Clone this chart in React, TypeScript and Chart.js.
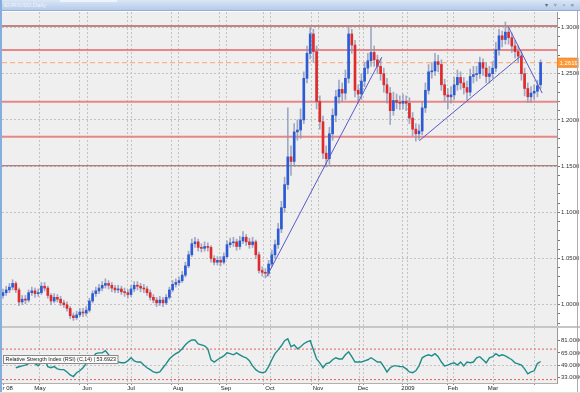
import React, { useEffect, useRef } from 'react';
import { Chart, registerables } from 'chart.js';

Chart.register(...registerables);

// ---------- data (EUR/USD daily, Apr 2008 - Mar 2009) ----------
const OPEN = [
  1.010,1.013,1.016,1.019,1.023,1.016,1.003,1.006,1.005,1.013,
  1.015,1.012,1.013,1.020,1.018,1.010,1.004,1.008,1.006,1.002,
  1.000,0.996,0.988,0.986,0.989,0.992,0.991,0.994,1.004,1.012,
  1.015,1.018,1.021,1.023,1.021,1.018,1.016,1.017,1.014,1.013,
  1.011,1.017,1.021,1.020,1.018,1.017,1.013,1.008,1.005,1.002,
  1.005,1.002,1.008,1.016,1.022,1.024,1.026,1.032,1.042,1.054,
  1.066,1.068,1.062,1.061,1.063,1.062,1.050,1.046,1.048,1.046,
  1.052,1.065,1.067,1.068,1.063,1.069,1.073,1.068,1.065,1.068,
  1.054,1.037,1.035,1.034,1.044,1.054,1.065,1.082,1.105,1.130,
  1.160,1.155,1.187,1.189,1.200,1.245,1.272,1.293,1.274,1.220,
  1.198,1.164,1.158,1.185,1.205,1.225,1.233,1.229,1.245,1.293,
  1.281,1.232,1.228,1.242,1.256,1.264,1.273,1.265,1.258,1.250,
  1.238,1.229,1.210,1.221,1.219,1.218,1.220,1.218,1.202,1.190,
  1.185,1.188,1.213,1.232,1.252,1.253,1.263,1.260,1.238,1.227,
  1.225,1.227,1.238,1.246,1.240,1.235,1.230,1.247,1.249,1.250,
  1.262,1.256,1.247,1.250,1.256,1.276,1.291,1.287,1.295,1.289,
  1.280,1.274,1.269,1.250,1.234,1.225,1.229,1.231,1.238,
];
const HIGH = [
  1.017,1.020,1.023,1.027,1.025,1.018,1.010,1.010,1.016,1.019,
  1.018,1.017,1.024,1.024,1.020,1.012,1.012,1.011,1.009,1.005,
  1.003,0.998,0.991,0.993,0.996,0.996,0.998,1.007,1.015,1.019,
  1.022,1.025,1.028,1.026,1.024,1.021,1.021,1.020,1.018,1.016,
  1.021,1.025,1.025,1.023,1.022,1.020,1.016,1.011,1.008,1.009,
  1.008,1.011,1.019,1.026,1.028,1.030,1.036,1.046,1.058,1.071,
  1.073,1.071,1.066,1.068,1.067,1.064,1.053,1.052,1.052,1.056,
  1.069,1.072,1.073,1.071,1.074,1.079,1.076,1.072,1.073,1.070,
  1.057,1.041,1.039,1.048,1.059,1.070,1.088,1.112,1.138,1.213,
  1.172,1.196,1.200,1.212,1.252,1.280,1.301,1.298,1.280,1.226,
  1.204,1.172,1.192,1.212,1.232,1.243,1.240,1.254,1.300,1.298,
  1.286,1.238,1.250,1.262,1.272,1.301,1.280,1.270,1.266,1.256,
  1.245,1.235,1.230,1.228,1.226,1.228,1.226,1.224,1.208,1.196,
  1.195,1.220,1.240,1.260,1.262,1.272,1.270,1.265,1.244,1.234,
  1.236,1.246,1.254,1.252,1.246,1.242,1.255,1.258,1.258,1.268,
  1.266,1.262,1.258,1.263,1.284,1.298,1.296,1.306,1.300,1.294,
  1.286,1.280,1.274,1.256,1.240,1.236,1.238,1.243,1.265,
];
const LOW = [
  1.007,1.010,1.013,1.016,1.013,0.999,1.000,1.001,1.003,1.010,
  1.008,1.009,1.011,1.015,1.007,1.000,1.002,1.003,0.999,0.997,
  0.993,0.985,0.983,0.984,0.987,0.987,0.988,0.992,1.002,1.009,
  1.012,1.015,1.018,1.017,1.014,1.013,1.013,1.011,1.009,1.007,
  1.009,1.014,1.016,1.014,1.013,1.010,1.005,1.002,0.998,0.999,
  0.998,1.000,1.006,1.014,1.019,1.021,1.024,1.030,1.040,1.052,
  1.062,1.058,1.057,1.058,1.058,1.046,1.043,1.043,1.042,1.044,
  1.050,1.062,1.063,1.059,1.060,1.066,1.064,1.061,1.062,1.050,
  1.034,1.031,1.029,1.031,1.041,1.050,1.061,1.078,1.100,1.125,
  1.140,1.150,1.178,1.180,1.196,1.240,1.266,1.262,1.212,1.190,
  1.158,1.149,1.152,1.178,1.198,1.218,1.220,1.222,1.240,1.272,
  1.225,1.218,1.222,1.236,1.250,1.258,1.258,1.250,1.243,1.230,
  1.218,1.195,1.205,1.212,1.211,1.212,1.210,1.196,1.183,1.177,
  1.179,1.184,1.208,1.228,1.245,1.248,1.252,1.232,1.220,1.212,
  1.218,1.222,1.232,1.233,1.228,1.222,1.226,1.240,1.242,1.245,
  1.248,1.240,1.240,1.245,1.252,1.270,1.279,1.282,1.282,1.273,
  1.267,1.262,1.243,1.226,1.219,1.219,1.222,1.225,1.234,
];
const CLOSE = [
  1.013,1.016,1.019,1.023,1.016,1.003,1.006,1.005,1.013,1.015,
  1.012,1.013,1.020,1.018,1.010,1.004,1.008,1.006,1.002,1.000,
  0.996,0.988,0.986,0.989,0.992,0.991,0.994,1.004,1.012,1.015,
  1.018,1.021,1.023,1.021,1.018,1.016,1.017,1.014,1.013,1.011,
  1.017,1.021,1.020,1.018,1.017,1.013,1.008,1.005,1.002,1.005,
  1.002,1.008,1.016,1.022,1.024,1.026,1.032,1.042,1.054,1.066,
  1.068,1.062,1.061,1.063,1.062,1.050,1.046,1.048,1.046,1.052,
  1.065,1.067,1.068,1.063,1.069,1.073,1.068,1.065,1.068,1.054,
  1.037,1.035,1.034,1.044,1.054,1.065,1.082,1.105,1.130,1.160,
  1.155,1.187,1.189,1.200,1.245,1.272,1.293,1.274,1.220,1.198,
  1.164,1.158,1.185,1.205,1.225,1.233,1.229,1.245,1.293,1.281,
  1.232,1.228,1.242,1.256,1.264,1.273,1.265,1.258,1.250,1.238,
  1.229,1.210,1.221,1.219,1.218,1.220,1.218,1.202,1.190,1.185,
  1.188,1.213,1.232,1.252,1.253,1.263,1.260,1.238,1.227,1.225,
  1.227,1.238,1.246,1.240,1.235,1.230,1.247,1.249,1.250,1.262,
  1.256,1.247,1.250,1.256,1.276,1.291,1.287,1.295,1.289,1.280,
  1.274,1.269,1.250,1.234,1.225,1.229,1.231,1.237,1.262,
];
const RSI = [
  null,null,null,null,45.5,46.8,48,49,51,52,
  51,48,53,57,47,45.5,47,44,43,43,
  40,36,34,39,41.5,45.5,51,56,58.6,64,
  65,65,68,62.5,58.6,56,53,52,52,54.6,
  58.6,54.6,53,53,49,45.5,43,40,39,40,
  45.5,51,57,61,64,66.4,70.4,75.6,79.5,82,
  82,76.9,75.6,74.3,70.4,56,53,56,58.6,61,
  65,64,62.5,65,62.5,60,58.6,54.6,48,43,
  40,39,40,47,56,64,69,74.3,81,83.5,
  73,75.6,70.4,73,77,79.5,81,69,57,52,
  45.5,51,52,56,58.6,57,57,62.5,66.4,60,
  53,53,53,54.6,56,58.6,56,53,53,47,
  40,45.5,48,48,47,47,44,40,39,41.5,
  48,58.6,61,62.5,61,64,60,53,48,49,
  51,52,49,53,48,53,52,53,58.6,60,
  56,52,58.6,60,64,61,62.5,61,58.6,56,
  52,50.7,49,44,37.6,40,41.5,51,53.7,
];
const RSI_LAST = '53.6923';

const MONTH_LABELS = ['Apr 08', 'May', 'Jun', 'Jul', 'Aug', 'Sep', 'Oct', 'Nov', 'Dec', '2009', 'Feb', 'Mar'];
const MONTH_POS = [0.3, 11.56, 26.25, 40.0, 54.69, 69.69, 83.44, 98.44, 112.5, 126.56, 140.63, 153.13];
const EXTRA_GRID_POS = [24.06, 39.06, 52.5, 67.5, 81.25, 96.25, 111.25, 124.69, 139.06, 165.94];

const PRICE_TICKS = [0.98, 0.99, 1.00, 1.01, 1.02, 1.03, 1.04, 1.05, 1.06, 1.07, 1.08, 1.09, 1.10, 1.11, 1.12,
  1.13, 1.14, 1.15, 1.16, 1.17, 1.18, 1.19, 1.20, 1.21, 1.22, 1.23, 1.24, 1.25, 1.26, 1.27, 1.28, 1.29, 1.30, 1.31];
const PRICE_LABEL_TICKS = [1.00, 1.05, 1.10, 1.15, 1.20, 1.25, 1.30];
const RSI_TICKS = [33, 49, 65, 81];
const RSI_GRID_TICKS = [49];
const RSI_BANDS = [70, 30];

const SR_LEVELS = [1.3016, 1.2756, 1.2197, 1.1818, 1.1504];
const CURRENT_PRICE = 1.2619;
// [index1, price1, index2, price2]
const TREND_LINES = [
  [82.4, 1.0303, 118.4, 1.268],
  [130.1, 1.1775, 162.2, 1.2702],
  [157.9, 1.3009, 168.5, 1.229],
];

// ---------- styling / layout constants ----------
const X_MIN = -0.3125;
const X_MAX = 173.125;
const PRICE_MIN = 0.97695;
const PRICE_MAX = 1.31677;
const RSI_MIN = 25.5;
const RSI_MAX = 97.66;

const FONT = 'Arial, "Liberation Sans", sans-serif';
const GRID = '#c2c2c2';
const PLOT_BG = '#efefef';
const UP = '#2b5cd6';
const DOWN = '#df2b2b';
const WICK = 'rgba(140,150,182,0.8)';
const CLEAR = 'rgba(0,0,0,0)';
const SR_COLORS = ['#c08484', 'rgba(228,118,118,0.85)', 'rgba(228,118,118,0.85)', 'rgba(228,118,118,0.85)', '#9c5a5a'];
const SR_WIDTHS = [2, 2, 2, 2, 1.2];

const X_TICKS = [...MONTH_POS, ...EXTRA_GRID_POS].sort((a, b) => a - b);
const near = (a: number, b: number) => Math.abs(a - b) < 1e-6;
const monthLabel = (v: number) => {
  const k = MONTH_POS.findIndex((p) => near(p, v));
  return k >= 0 ? MONTH_LABELS[k] : '';
};
const isMajorPrice = (v: number) => PRICE_LABEL_TICKS.some((p) => near(p, v));
const xGridColor = (c: any) => (c.tick && near(c.tick.value, MONTH_POS[0]) ? CLEAR : GRID);

const plotBg = {
  id: 'plotBg',
  beforeDraw(chart: any) {
    const { ctx, chartArea } = chart;
    ctx.save();
    ctx.fillStyle = PLOT_BG;
    ctx.fillRect(chartArea.left, chartArea.top, chartArea.right - chartArea.left, chartArea.bottom - chartArea.top);
    ctx.restore();
  },
};

const priceTag = {
  id: 'priceTag',
  afterDraw(chart: any) {
    const { ctx, chartArea } = chart;
    const y = chart.scales.y.getPixelForValue(CURRENT_PRICE);
    const x = chartArea.right + 0.5;
    ctx.save();
    ctx.fillStyle = '#ff9a3a';
    ctx.strokeStyle = '#f08020';
    ctx.lineWidth = 1;
    ctx.fillRect(x, y - 4.5, 20.5, 9);
    ctx.strokeRect(x, y - 4.5, 20.5, 9);
    ctx.fillStyle = '#ffffff';
    ctx.font = '6px ' + FONT;
    ctx.textBaseline = 'middle';
    ctx.textAlign = 'left';
    ctx.fillText(CURRENT_PRICE.toFixed(4), x + 2, y + 0.5);
    ctx.restore();
  },
};

const rsiTag = {
  id: 'rsiTag',
  afterDraw(chart: any) {
    const { ctx } = chart;
    const text = 'Relative Strength Index (RSI) (C,14) | ' + RSI_LAST;
    ctx.save();
    ctx.font = '5.4px ' + FONT;
    const w = ctx.measureText(text).width + 4;
    ctx.fillStyle = '#fbfbfb';
    ctx.fillRect(3.5, 27.5, w, 8);
    ctx.strokeStyle = '#8a8a8a';
    ctx.lineWidth = 1;
    ctx.strokeRect(3.5, 27.5, w, 8);
    ctx.fillStyle = '#222';
    ctx.textBaseline = 'middle';
    ctx.fillText(text, 5.5, 31.8);
    ctx.restore();
  },
};

function makeMainConfig(): any {
  return {
    type: 'bar',
    data: {
      datasets: [
        ...SR_LEVELS.map((lvl, k) => ({
          type: 'line',
          data: [{ x: X_MIN, y: lvl }, { x: X_MAX, y: lvl }],
          borderColor: SR_COLORS[k],
          borderWidth: SR_WIDTHS[k],
          pointRadius: 0,
          order: 10,
        })),
        {
          type: 'line',
          data: [{ x: X_MIN, y: CURRENT_PRICE }, { x: X_MAX, y: CURRENT_PRICE }],
          borderColor: '#ffb287',
          borderWidth: 1.3,
          borderDash: [5, 3],
          pointRadius: 0,
          order: 9,
        },
        {
          type: 'bar',
          data: LOW.map((l, i) => ({ x: i, y: [l, HIGH[i]] })),
          backgroundColor: WICK,
          borderWidth: 0,
          barThickness: 1,
          maxBarThickness: 1,
          grouped: false,
          order: 5,
        },
        {
          type: 'bar',
          data: OPEN.map((o, i) => ({ x: i, y: [o, CLOSE[i]] })),
          backgroundColor: (c: any) => (CLOSE[c.dataIndex] >= OPEN[c.dataIndex] ? UP : DOWN),
          borderWidth: 0,
          barThickness: 2,
          maxBarThickness: 2,
          minBarLength: 1,
          grouped: false,
          order: 4,
        },
        ...TREND_LINES.map((t) => ({
          type: 'line',
          data: [{ x: t[0], y: t[1] }, { x: t[2], y: t[3] }],
          borderColor: '#5a5ac8',
          borderWidth: 1,
          pointRadius: 0,
          order: 1,
        })),
      ],
    },
    options: {
      responsive: false,
      animation: false,
      events: [],
      devicePixelRatio: 1,
      layout: { padding: { top: 12, left: 2, right: 0, bottom: 0 } },
      plugins: { legend: { display: false }, tooltip: { enabled: false } },
      scales: {
        x: {
          type: 'linear',
          min: X_MIN,
          max: X_MAX,
          offset: false,
          afterBuildTicks: (s: any) => { s.ticks = X_TICKS.map((v) => ({ value: v })); },
          afterFit: (s: any) => { s.height = 0; s.paddingLeft = 0; s.paddingRight = 0; },
          ticks: { display: false, autoSkip: false },
          grid: { offset: false, color: xGridColor, lineWidth: 1, drawTicks: false },
          border: { display: false, dash: [2, 2] },
        },
        y: {
          type: 'linear',
          position: 'right',
          min: PRICE_MIN,
          max: PRICE_MAX,
          afterBuildTicks: (s: any) => { s.ticks = PRICE_TICKS.map((v) => ({ value: v })); },
          afterFit: (s: any) => { s.width = 23; s.paddingTop = 0; s.paddingBottom = 0; },
          ticks: {
            autoSkip: false,
            padding: 1,
            color: '#333',
            font: { size: 6, family: FONT },
            callback: (v: any) => (isMajorPrice(Number(v)) ? Number(v).toFixed(4) : ''),
          },
          grid: {
            color: (c: any) => (c.tick && isMajorPrice(c.tick.value) ? GRID : CLEAR),
            tickLength: 3,
            tickColor: '#777',
            drawTicks: true,
          },
          border: { display: true, color: '#9a9a9a', dash: [2, 2] },
        },
      },
    },
    plugins: [plotBg, priceTag],
  };
}

function makeRsiConfig(): any {
  return {
    type: 'line',
    data: {
      datasets: [
        ...RSI_BANDS.map((b) => ({
          data: [{ x: X_MIN, y: b }, { x: X_MAX, y: b }],
          borderColor: '#e06262',
          borderWidth: 1,
          borderDash: [2, 2],
          pointRadius: 0,
          order: 5,
        })),
        {
          data: RSI.map((v, i) => ({ x: i, y: v })),
          borderColor: '#1e8c88',
          borderWidth: 1.4,
          pointRadius: 0,
          tension: 0,
          order: 1,
        },
      ],
    },
    options: {
      responsive: false,
      animation: false,
      events: [],
      devicePixelRatio: 1,
      layout: { padding: { top: 0, left: 2, right: 0, bottom: 0 } },
      plugins: { legend: { display: false }, tooltip: { enabled: false } },
      scales: {
        x: {
          type: 'linear',
          min: X_MIN,
          max: X_MAX,
          offset: false,
          afterBuildTicks: (s: any) => { s.ticks = X_TICKS.map((v) => ({ value: v })); },
          afterFit: (s: any) => { s.height = 10; s.paddingLeft = 0; s.paddingRight = 0; },
          ticks: {
            autoSkip: false,
            maxRotation: 0,
            minRotation: 0,
            padding: 0,
            color: '#222',
            font: { size: 6, family: FONT },
            callback: (v: any) => monthLabel(Number(v)),
          },
          grid: { offset: false, color: xGridColor, drawTicks: true, tickLength: 2, tickColor: '#8a8a8a' },
          border: { display: true, color: '#b0b0b0', dash: [2, 2] },
        },
        y: {
          type: 'linear',
          position: 'right',
          min: RSI_MIN,
          max: RSI_MAX,
          afterBuildTicks: (s: any) => { s.ticks = RSI_TICKS.map((v) => ({ value: v })); },
          afterFit: (s: any) => { s.width = 23; s.paddingTop = 0; s.paddingBottom = 0; },
          ticks: {
            autoSkip: false,
            padding: 1,
            color: '#333',
            font: { size: 6, family: FONT },
            callback: (v: any) => Number(v).toFixed(4),
          },
          grid: {
            color: (c: any) => (c.tick && RSI_GRID_TICKS.includes(c.tick.value) ? GRID : CLEAR),
            tickLength: 3,
            tickColor: '#777',
          },
          border: { display: true, color: '#9a9a9a', dash: [2, 2] },
        },
      },
    },
    plugins: [plotBg, rsiTag],
  };
}

export default function App() {
  const mainRef = useRef<HTMLCanvasElement>(null);
  const rsiRef = useRef<HTMLCanvasElement>(null);

  useEffect(() => {
    Chart.defaults.font.family = FONT;
    const main = new Chart(mainRef.current as HTMLCanvasElement, makeMainConfig());
    const rsi = new Chart(rsiRef.current as HTMLCanvasElement, makeRsiConfig());
    return () => {
      main.destroy();
      rsi.destroy();
    };
  }, []);

  return (
    <div style={{ position: 'fixed', left: 0, top: 0, width: 580, height: 393, background: '#ffffff', overflow: 'hidden', fontFamily: FONT }}>
      <canvas ref={mainRef} width={580} height={326} style={{ position: 'absolute', left: 0, top: 0 }} />
      <div style={{ position: 'absolute', left: 0, top: 326, width: 580, height: 2, background: '#c6c6c6' }} />
      <canvas ref={rsiRef} width={580} height={65} style={{ position: 'absolute', left: 0, top: 328 }} />
      {/* window title bar */}
      <div style={{ position: 'absolute', left: 0, top: 0, width: 580, height: 11, background: 'linear-gradient(#d9e6f6, #b6cbe8)', borderBottom: '1px solid #93aed6', boxSizing: 'border-box' }}>
        <div style={{ position: 'absolute', left: 60, top: 0, width: 57, height: 1.5, background: '#edf4fd' }} />
        <span style={{ position: 'absolute', left: 4, top: 1.5, fontSize: 6, lineHeight: '7px', color: '#eef3fa', whiteSpace: 'nowrap' }}>EUR/USD,Daily</span>
        <span style={{ position: 'absolute', right: 4, top: 1.5, fontSize: 6, lineHeight: '7px', color: '#5a6b82', whiteSpace: 'nowrap', letterSpacing: 2 }}>▾ ˅ ▫ ×</span>
      </div>
      {/* window frame */}
      <div style={{ position: 'absolute', left: 0, top: 0, width: 2, height: 393, background: '#86ade0' }} />
      <div style={{ position: 'absolute', left: 577, top: 11, width: 1, height: 382, background: '#aeaeae' }} />
      <div style={{ position: 'absolute', left: 0, top: 392, width: 580, height: 1, background: '#dfe4c8' }} />
    </div>
  );
}
